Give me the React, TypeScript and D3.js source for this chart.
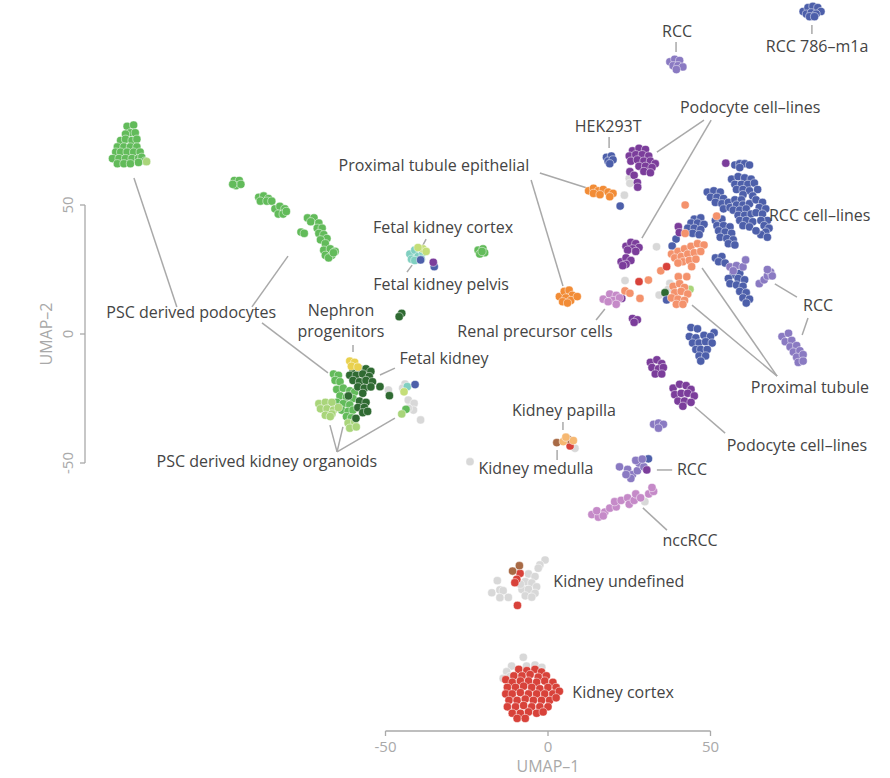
import React from "react";
import * as d3 from "d3";

// ---- data (UMAP coordinates) ----
const greenPts: [number, number][] = [
  [-129.5,80.5],[-127.5,81],[-128.5,78],[-130,77.5],[-127,78],
  [-131.5,75],[-130,75.5],[-128,75],[-126.5,75.5],
  [-132.5,72.5],[-130.5,72.5],[-128.5,72.5],[-126.5,72.5],
  [-133,70.5],[-131.5,70.5],[-129.5,70.5],[-127.5,70.5],[-125.5,70.5],
  [-134,68],[-132,68],[-130,68],[-128,68],[-126,68],
  [-132.5,66],[-130.5,66],[-128.5,66],[-125,68.5],[-124,67],[-126,66.5],
  [-96.5,59.5],[-95,59.5],[-96,57.5],[-94.5,58],[-97,58],
  [-89,53],[-87.5,53.5],[-86,52.5],[-88.5,51.5],[-86.5,51.5],[-85,51.5],
  [-84,48.5],[-82.5,49.5],[-81,48.5],[-83,46.5],[-81.5,46.5],[-80.5,47.5],
  [-74,45],[-72,45],[-73,43.5],[-70.5,43],[-76,39.5],[-75,39],[-71,41],[-69.5,41],[-70.5,39],[-69,38.5],[-68,37],[-70,36.5],[-68.5,35],
  [-69,32.5],[-67,33],[-65.5,32],[-68.5,30.5],[-66.5,30.5],[-67.5,29.5],[-66,31.5],
  [-21.5,32.5],[-20,33],[-19.5,31.5],[-21,31],[-20.3,32],
  [-66,-15.5],[-64.5,-16],[-65.5,-18],[-64,-18.5],
  [-65,-21.5],[-63,-21],[-61,-22],[-59.5,-22.5],[-64,-24],[-62,-24.5],[-60,-25],
  [-65,-26.5],[-63,-27],[-61,-27.5],[-63.5,-29.5],[-61.5,-30],[-60,-29.5],[-62,-32],[-60.5,-32.5],
  [-43.7,-29.2],
];
const lightGreenPts: [number, number][] = [
  [-123.5,66.8],
  [-70.5,-27],[-68.5,-26.5],[-66.5,-26.5],[-70,-29],[-68,-29],[-66,-29.5],[-64.5,-28.5],
  [-68.5,-31.5],[-66.5,-31],[-67,-32],
  [-61.5,-34.5],[-59.5,-34],[-61,-36.5],[-59,-36],[-45,-31],
  [43.7,17.3],
];
const darkGreenPts: [number, number][] = [
  [-45,8],[-45.8,6.7],
  [-60,-14],[-58,-13.5],[-56,-13.5],[-54.5,-14.5],[-61,-16],[-59,-16],[-57,-15.5],[-55,-16.5],
  [-60,-18],[-58,-18.5],[-56,-18],[-54,-18.5],[-58.5,-20.5],[-56.5,-21],[-54.5,-20.5],[-57,-23],
  [-58,-26],[-56,-26.5],[-58.5,-28.5],[-56.5,-28.5],[-57,-30.5],[-55.5,-30],
  [-51.7,-20.4],[-48.8,-23.9],[-59.1,-32.7],[-61.4,-24],
  [36,16],
];
const yellowPts: [number, number][] = [[-61,-10.5],[-59.5,-11],[-60.5,-12.5],[-58.5,-12.8]];
const tealPts: [number, number][] = [
  [-42.5,31],[-41,32.5],[-40,30],[-42,29],[-38.5,31.5],[-39,29],[-41,28.5],[-43.3,-20.4],
];
const yellowGreenPts: [number, number][] = [[-38.5,33],[-37.5,32],[-40,33.5],[-44.3,-22.4]];
const bluePts: [number, number][] = [
  [18,68.5],[19.5,69],[18.5,67],[20,67.5],[19,66],
  [78.5,125],[80,126.5],[81.5,127],[83,126.5],[84,125],[79.5,124],[81,124.5],[82.5,124],[80.5,123],[82,123],
  [22.2,49.6],[-39.2,28.7],[-35,26.1],[-40.9,-19.6],[30.9,-48.4],[36.5,13.2],
  [57.5,65.5],[59,66],[60.5,66],[62,65.5],[59,64.5],
  [56.5,60],[58.5,61],[60.5,60.5],[62.5,60],[57.5,58],[59.5,58],[61.5,58],[63.5,58.5],[58,56],[60,56],[62,55.5],[64.5,56],[60,54],[63,53.5],
  [49,55],[51,55.5],[53,55],[50,53],[52,53],[54,52.5],[51.5,51],[53.5,50.5],[55.5,51],[54,48.5],[56,49],
  [57.5,52],[59.5,52],[58,50],[60,50],[62,50.5],[57,48],[59,48],[61,48.5],[58.5,46],[60.5,46],[62.5,46.5],[59,44],[61,44],[63,43.5],[60,42],[62,41.5],
  [64,52],[66,51],[65,49],[67,48.5],[64,47],[66,46.5],[67.5,44],[65.5,44],[66.5,42],[68,41],[67,39.5],[65.5,38.5],[67.5,37.5],[64,40],
  [45,44.5],[47,45],[44,43],[46,43],[48,42.5],[43,41],[45,41],[47,40.5],[44.5,39],[46.5,38.5],[39.4,36.8],[38.2,34.1],
  [51.5,44],[53.5,44.5],[52,42],[54,42],[56,41.5],[52.5,40],[54.5,39.5],[56.5,39],[53,37.5],[55,37],[57,36.5],[55.5,35],[57.5,34.5],
  [51.5,29.5],[53.5,30],[52.5,28],[54.5,27.5],[57,23],[59,23.5],[58.5,21.5],[60.5,21],[55.5,21.5],[56,19.5],[58,19],[60,18.5],[59,16.5],[61,16],[60,14],[62,13.5],[61,12],
  [44,2.5],[46,2],[51.1,0.5],[43.5,-1],[45.5,-1.5],[48,-0.5],[50,-1],[44.5,-3.5],[46.5,-3.5],[48.5,-3],[50.5,-3.5],
  [45.5,-6],[47,-6],[49,-6],[46.5,-8.5],[48.5,-8.5],[47,-10.5],
];
const lavenderPts: [number, number][] = [
  [37.5,105.5],[39,106.5],[40.5,106],[38.5,104],[40,104],[41.5,103.5],[39.5,102.5],
  [56,26],[58,26.5],[60,26],[57,24.5],[60.8,28.7],
  [65,19.5],[66.5,21],[67.5,22.5],[68.5,24],[69,22.5],[67.5,25],
  [72,-1],[74,0.3],[73,-3],[75,-2.5],[74.5,-5],[76.5,-4.5],[75.5,-7],[77.5,-6.5],[76.5,-9],[78.5,-8],[77,-11],[78.5,-10.5],
  [32.5,-35],[34,-34.5],[35.5,-35],[34,-36.5],
  [22,-51.5],[24.5,-52.5],[26,-54.5],[27.5,-53],[28,-50],[29.5,-51.5],[27,-49],[29,-48.5],[25.5,-56],[24,-54.5],
];
const purplePts: [number, number][] = [
  [26,71],[28,72],[30,71.5],[25,69],[27,69.5],[29,69.5],[31,69],[25.5,67],[27.5,67.5],[29.5,67],[31.5,67],[33,66],
  [28,65],[30,65],[32,64.5],[29.5,63],[31.5,62.5],[25.2,62.9],[26.5,61.5],[27.5,58.7],[27.6,56.9],
  [54.7,66.2],
  [24,34],[25.5,35.5],[27,35],[28,33.5],[26,33],[24.5,32.5],[27,32],
  [22.5,28],[24,29.5],[25.5,28.5],[24,27],[23,26.5],
  [26,6],[27.5,5.5],[26.5,4.5],
  [40.1,41.6],[40.4,39.3],[22.7,13.8],[-35.3,27.8],[30.4,-52.7],
  [31.5,-11],[33.5,-10],[35,-11.5],[32,-13],[34,-13.5],[35.5,-13],[33,-15.5],[35,-15.5],
  [38.5,-21],[40.5,-19.5],[42.5,-20],[44,-21.5],[39,-23.5],[41,-23],[43,-23],[45,-24],[40,-26],[42,-26],[44,-26.5],[41.5,-28],
];
const orangePts: [number, number][] = [
  [12.5,55.5],[14,56.5],[15.5,55.5],[14,54.5],[17,56],[18.5,55],[20,54.5],[19,53.2],[16,54],
  [3.5,14.5],[5,16.5],[6.5,17],[7.5,15],[5.5,14],[7,13],[9,14.5],[4.5,12.5],[6,12],
];
const salmonPts: [number, number][] = [
  [42.2,50],[51.9,45.7],[42.2,39],
  [38,31],[40,32],[42,33],[44,34],[46,35],[48,34.5],[39,29.5],[41,30],[43,31],[45,31.5],[47,32],[41.5,28],[43.5,28.5],[45.5,29],[40,27.5],
  [44.2,26.1],[34.7,24.5],[30.9,20.9],[28.3,13.8],[23.7,16.7],[25.2,15.8],[40.1,22.2],[42.7,22.2],
  [38.5,18.5],[40.5,19.5],[42,18],[39,16],[41,16.5],[43,15.5],[38,14],[40,13.5],[42,13],[39.5,11.5],[41.5,11.5],
];
const redPts: [number, number][] = [
  [36.5,26.1],[28,20.3],[6.8,-43.4],
  [-8.6,-92.8],[-9.6,-95.1],[-10.2,-96.4],[-9.4,-105.2],
  [-9,-130],[-6.5,-130.5],[-4,-130],[-2,-131],
  [-10.5,-132.5],[-8,-132.5],[-5.5,-132],[-3,-133],[-0.5,-132.5],
  [-13,-134],[-11,-135],[-8.5,-134.5],[-6,-134.5],[-3.5,-135],[-1,-134.5],[1.5,-135],
  [-12.5,-137],[-10,-137],[-7.5,-136.5],[-5,-137],[-2.5,-137.5],[0,-137],[2.5,-137],
  [-13,-139.5],[-11,-139.5],[-8.5,-139],[-6,-139.5],[-3.5,-139.5],[-1,-139.5],[1.5,-139.5],[3.5,-138.5],
  [-12,-142],[-9.5,-142],[-7,-141.5],[-4.5,-142],[-2,-142],[0.5,-142],[2.5,-141],
  [-12.5,-144.5],[-10,-144.5],[-7.5,-144],[-5,-144.5],[-2.5,-144.5],[0,-144.5],
  [-11,-147],[-8.5,-147],[-6,-146.5],[-3.5,-147],[-1.5,-146.5],
  [-9.5,-149],[-7,-149],
];
const grayPts: [number, number][] = [
  [25,60.3],[25.2,58.4],[23.5,53.8],[42.7,32.6],[33.4,33.8],[37.5,19.6],[34.2,15.1],[37,17.3],[23.7,20.7],
  [-49.1,-21.7],[-44,-19.4],[-44.7,-21],[-43,-25.6],[-41.2,-26.9],[-41.4,-29.5],[-43,-28.8],[-39.2,-33.3],[-24,-49.5],
  [8.3,-44.3],[29.8,-65],
  [-0.9,-87.6],[-2.5,-89.5],[-3,-90.8],[-6,-93],[-4,-94],[-7,-96],[-5,-96.5],[-3.5,-98],[-8,-99],[-6,-99],[-4,-100.5],
  [-7,-101.5],[-5,-102],[-8.5,-97],[-15.6,-95.6],[-17.3,-100.3],[-14.8,-99.2],[-13.8,-99.5],[-14.8,-102.2],[-12.2,-102.1],
  [-7.6,-125.3],[-11.2,-128.7],[-6.6,-128.7],[-4,-128.3],[-1.9,-129.2],[-12.7,-130.9],[-13.8,-133.5],[-11.7,-132.8],[-11.2,-135.4],
];
const brownPts: [number, number][] = [[-8.8,-89.8],[-10.9,-91.9],[2.7,-42.1],[6.2,-40.8]];
const papillaPts: [number, number][] = [[4.7,-41.7],[7.8,-41.3],[5.5,-40]];
const pinkPts: [number, number][] = [
  [17,13.5],[19,15.5],[21,15],[20,13],[22,14],[21,11.5],[18.5,12.5],
  [13.5,-70],[15.5,-71],[15,-68.5],[17.5,-69],[19,-67.5],[21,-67],[20.5,-65],[22.5,-64.5],[24.5,-63.5],
  [25,-66],[26.5,-64.5],[27,-62],[28.5,-63.5],[31,-62],[32.5,-61],[32,-59.5],[17,-70.5],
];

const labelTexts = [
  "RCC 786–m1a","RCC","HEK293T","Podocyte cell–lines","Proximal tubule epithelial","RCC cell–lines",
  "Fetal kidney cortex","Fetal kidney pelvis","PSC derived podocytes","Nephron","progenitors","Fetal kidney",
  "PSC derived kidney organoids","Renal precursor cells","RCC","Proximal tubule","Podocyte cell–lines",
  "Kidney papilla","Kidney medulla","RCC","nccRCC","Kidney undefined","Kidney cortex",
];
const labelX = [82.8,39.7,18.5,62.2,-35.1,83.6,-32.3,-32.9,-109.8,-63.7,-63.7,-32,-86.5,-4,83.1,80.6,76.6,4.9,-3.7,44.3,43.7,21.8,23.1];
const labelY = [109.3,115.1,78.3,85.7,63.2,43.8,39.1,17.1,6.2,7,-1.2,-11.6,-51.6,-1.2,8.9,-22.9,-45.3,-31.8,-54.3,-54.7,-82.2,-98.1,-141.1];

const leaders: [number, number, number, number][] = [
  [81.2,119.8,81.2,116.3],[39.4,113.2,39.4,109.3],[18.8,76.4,18.8,72.1],
  [48,82.9,33.5,70.5],[50.2,82.9,28.9,37.2],
  [-2.5,62.4,12,56.6],[-5.2,59.7,4.6,18.6],
  [-37.5,36.8,-38.8,33.7],[-41.8,26.7,-43.4,24],
  [-127.4,60.5,-114.2,10.5],[-80,30.2,-91.1,10.5],[-88,4.3,-67.7,-15.1],
  [-60,-4.3,-60,-7],[-47.1,-13.2,-51.7,-15.9],
  [-64.9,-45.7,-67.1,-35.3],[-64.9,-45.7,-63.1,-36],[-64.9,-45.7,-47.1,-32.6],
  [17.5,9.7,14.8,5.4],
  [69.8,19.4,76.6,14.3],[80,6.2,78.2,-0.4],
  [70.5,-16.3,47.4,25.6],[70.5,-16.3,44.3,11.2],
  [45.2,-28.3,54.5,-38.4],
  [4.6,-34.1,4.6,-37.2],[2.8,-45,2.8,-48.8],
  [33.5,-52.7,38.2,-52.7],[29.2,-67.4,36.6,-76],
];

const xTicks = [-50, 0, 50];
const yTicks = [-50, 0, 50];

const groups: { pts: [number, number][]; color: string }[] = [
  { pts: grayPts, color: "#d8d8d8" },
  { pts: greenPts, color: "#62bb5a" },
  { pts: lightGreenPts, color: "#a9d57a" },
  { pts: darkGreenPts, color: "#2f6a32" },
  { pts: yellowPts, color: "#e9d14e" },
  { pts: tealPts, color: "#80cfc0" },
  { pts: yellowGreenPts, color: "#c4de78" },
  { pts: bluePts, color: "#4d5faa" },
  { pts: lavenderPts, color: "#8a7ac2" },
  { pts: purplePts, color: "#7b3d9b" },
  { pts: orangePts, color: "#f28c36" },
  { pts: salmonPts, color: "#f4926c" },
  { pts: redPts, color: "#d8423a" },
  { pts: brownPts, color: "#a86a45" },
  { pts: papillaPts, color: "#f6b872" },
  { pts: pinkPts, color: "#c58ac8" },
];

export default function App() {
  const W = 890, H = 778;
  const x = d3.scaleLinear().domain([-50, 50]).range([385.5, 710.5]);
  const y = d3.scaleLinear().domain([-50, 50]).range([463, 205]);
  const axisColor = "#a9a9a9";
  const font = "'Open Sans', 'Noto Sans', sans-serif";
  const xAxisY = 731;
  const yAxisX = 85;
  return (
    <svg width={W} height={H} style={{ position: "absolute", left: 0, top: 0, background: "#fff" }} fontFamily={font}>
      <g stroke={axisColor} strokeWidth={1.3} fill="none">
        <line x1={x(-50)} x2={x(50)} y1={xAxisY} y2={xAxisY} />
        {xTicks.map((t) => <line key={"xt" + t} x1={x(t)} x2={x(t)} y1={xAxisY} y2={xAxisY + 5} />)}
        <line x1={yAxisX} x2={yAxisX} y1={y(50)} y2={y(-50)} />
        {yTicks.map((t) => <line key={"yt" + t} x1={yAxisX - 5} x2={yAxisX} y1={y(t)} y2={y(t)} />)}
      </g>
      <g fill={axisColor} fontSize={15}>
        {xTicks.map((t) => (
          <text key={"xl" + t} x={x(t)} y={xAxisY + 21} textAnchor="middle">{String(t)}</text>
        ))}
        {yTicks.map((t) => (
          <text key={"yl" + t} transform={`translate(${yAxisX - 12},${y(t)}) rotate(-90)`} textAnchor="middle">{String(t)}</text>
        ))}
        <text x={x(0)} y={772} textAnchor="middle" fontSize={16}>UMAP–1</text>
        <text transform={`translate(52,${y(0)}) rotate(-90)`} textAnchor="middle" fontSize={16}>UMAP–2</text>
      </g>
      <g stroke="#a9a9a9" strokeWidth={1.5}>
        {leaders.map((l, i) => (
          <line key={"ld" + i} x1={x(l[0])} y1={y(l[1])} x2={x(l[2])} y2={y(l[3])} />
        ))}
      </g>
      {groups.map((g, gi) => (
        <g key={"g" + gi} fill={g.color} stroke="#ffffff" strokeWidth={0.6} strokeOpacity={0.8}>
          {g.pts.map((p, i) => (
            <circle key={i} cx={x(p[0])} cy={y(p[1])} r={4.1} />
          ))}
        </g>
      ))}
      <g fill="#444" fontSize={16}>
        {labelTexts.map((t, i) => (
          <text key={"lb" + i} x={x(labelX[i])} y={y(labelY[i])} textAnchor="middle">{t}</text>
        ))}
      </g>
    </svg>
  );
}
